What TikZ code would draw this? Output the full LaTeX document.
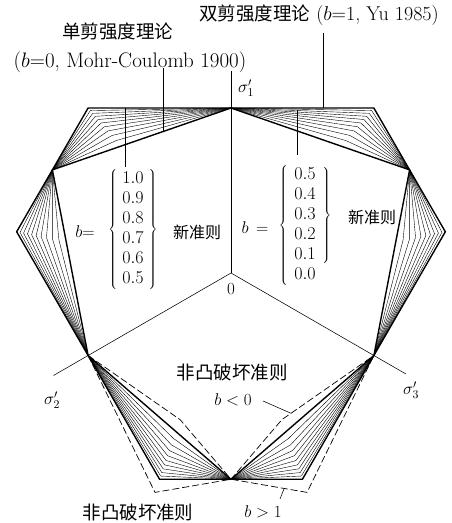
\RequirePackage{fix-cm}
\documentclass[tikz,border=0pt]{standalone}
\usepackage{fontspec}
\newfontfamily\cjk{Noto Sans CJK SC}
\usetikzlibrary{calc}
\begin{document}
\begin{tikzpicture}[x=1pt,y=1pt,
  heavy/.style={line width=1.4pt, line join=miter},
  fanline/.style={line width=0.4pt},
  axisline/.style={line width=0.55pt},
  dashline/.style={line width=0.7pt, dash pattern=on 7pt off 3pt},
  leader/.style={line width=0.55pt},
  big/.style={inner sep=0pt, font=\fontsize{21}{24}\selectfont},
  mid/.style={inner sep=0pt, font=\fontsize{17}{20}\selectfont},
  nums/.style={inner sep=0pt, font=\fontsize{18}{20}\selectfont},
  cnbig/.style={inner sep=0pt, font=\cjk\fontsize{18.5}{20}\selectfont},
  cnsmall/.style={inner sep=0pt, font=\cjk\fontsize{16}{18}\selectfont},
]
\useasboundingbox (0,0) rectangle (452,523);
\def\rT{165}
\def\phib{40.893}
\pgfmathsetmacro\rC{1.25*\rT}
\pgfmathsetmacro\rV{1.25*\rT/0.94492}
\pgfmathsetmacro\rNeg{1.25*\rT/(0.75593+0.5*(0.94492+0.18898*0.15)/0.85)}
\pgfmathsetmacro\rBig{1.25*\rT/(0.75593+0.5*(0.94492-0.18898*1.5)/2.5)}
\begin{scope}[shift={(231,250)}]
  \coordinate (O) at (0,0);
  \coordinate (T1) at (90:\rT);
  \coordinate (T2) at (210:\rT);
  \coordinate (T3) at (-30:\rT);
  \coordinate (C12) at (150:\rC);
  \coordinate (C13) at (30:\rC);
  \coordinate (C23) at (-90:\rC);
  \coordinate (Va) at (10.893:\rV);
  \coordinate (Vb) at (49.107:\rV);
  \coordinate (Vc) at (130.893:\rV);
  \coordinate (Vd) at (169.107:\rV);
  \coordinate (Ve) at (250.893:\rV);
  \coordinate (Vf) at (289.107:\rV);
  \coordinate (Nl) at (250.893:\rNeg);
  \coordinate (Nr) at (289.107:\rNeg);
  \coordinate (Bl) at (250.893:\rBig);
  \coordinate (Br) at (289.107:\rBig);
  \coordinate (A1) at (90:202);
  \coordinate (A2) at (210:205);
  \coordinate (A3) at (-30:202);
  % fans of the unified strength theory, 0<b<1
  \foreach \a in {90,210,-30}{
    \foreach \s in {1,-1}{
      \foreach \b in {0.1,0.2,...,0.9}{
        \pgfmathsetmacro\r{1.25*\rT/(0.75593+0.5*(0.94492-0.18898*\b)/(1+\b))}
        \draw[fanline] (\a:\rT) -- ({\a+\s*\phib}:\r) -- ({\a+\s*60}:\rC);
      }
    }
  }
  % axes
  \draw[axisline] (O) -- (A1);
  \draw[axisline] (O) -- (A2);
  \draw[axisline] (O) -- (A3);
  % non-convex criteria
  \draw[dashline] (T2) -- (Nl) -- (C23) -- (Nr) -- (T3);
  \draw[dashline] (T2) -- (Bl) -- (C23) -- (Br) -- (T3);
  % Mohr-Coulomb (b=0) and twin-shear (b=1)
  \draw[heavy] (T1) -- (C13) -- (T3) -- (C23) -- (T2) -- (C12) -- cycle;
  \draw[heavy] (Va) -- (Vb) -- (Vc) -- (Vd) -- (Ve) -- (Vf) -- cycle;
\end{scope}

% axis labels
\node[mid] (s1) at (246,435) {$\sigma'_1$};
\node[mid] (s2) at (52,123) {$\sigma'_2$};
\node[mid] (s3) at (411,133) {$\sigma'_3$};
\node[mid] (zero) at (231,234) {0};

% top captions
\node[cnbig] (mc) at (118,491) {单剪强度理论};
\node[big] (mcref) at (130,461) {($b{=}0$, Mohr-Coulomb 1900)};
\node[big, font=\fontsize{20}{24}\selectfont] (ts) at (319,507.5) {{\cjk\fontsize{18.5}{20}\selectfont 双剪强度理论} ($b{=}1$, Yu 1985)};

% leaders of captions
\coordinate (p1) at ($(T1)!0.381!(C12)$);
\coordinate (p1t) at (163,455);
\draw[leader] (p1 |- p1t) -- (p1);
\coordinate (p2) at ($(T1)!0.644!(Vb)$);
\coordinate (p2t) at (323,490);
\draw[leader] (p2 |- p2t) -- (p2);

% left list
\node[mid] (lb) at (85,291) {$b{=}$};
\node[nums] (lnums) at (133,293) {$\left\{\begin{array}{c}1.0\\0.9\\0.8\\0.7\\0.6\\0.5\end{array}\right\}$};
\node[cnsmall] (lnew) at (197,291) {新准则};
\coordinate (p3) at ($(T1)!0.742!(Vc)$);
\coordinate (p3b) at (125,356);
\draw[leader] (p3) -- (p3 |- p3b);

% right list
\node[mid] (rb) at (255,295) {$b\,=$};
\node[nums] (rnums) at (305,297) {$\begin{array}{c}0.5\\0.4\\0.3\\0.2\\0.1\\0.0\end{array}$};
\node[nums, anchor=east] (rlb) at (rnums.west) {$\left\{\vphantom{\begin{array}{c}0\\0\\0\\0\\0\\0\end{array}}\right.$};
\node[nums, anchor=north west] (rrb) at (rnums.north east) {$\left.\vphantom{\begin{array}{c}0\\0\\0\\0\\0\end{array}}\right\}$};
\node[cnsmall] (rnew) at (372,306) {新准则};
\coordinate (p4) at (297,413);
\coordinate (p4b) at (297,368);
\draw[leader] (p4) -- (p4b);

% non-convex labels
\node[cnbig] (nc1) at (232,151) {非凸破坏准则};
\node[mid] (bneg) at (233,123) {$b<0$};
\coordinate (p5) at ($(T3)!0.9!(Nr)$);
\coordinate (q5) at (263,122);
\draw[leader] (q5) -- (p5);
\node[cnbig] (nc2) at (138,11) {非凸破坏准则};
\node[mid] (bbig) at (263,11) {$b>1$};
\coordinate (p6) at ($(C23)!0.7!(Br)$);
\coordinate (q6) at (280,24);
\draw[leader] (q6) -- (p6);
\end{tikzpicture}
\end{document}
